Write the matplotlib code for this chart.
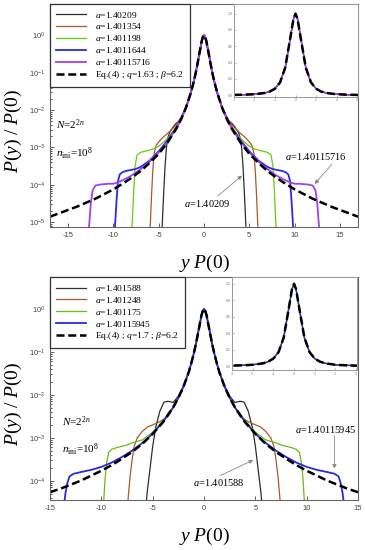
import numpy as np
import matplotlib.pyplot as plt
from matplotlib.ticker import FuncFormatter, LogLocator, NullFormatter

plt.rcParams['font.family'] = 'Liberation Serif'
plt.rcParams['mathtext.fontset'] = 'custom'
plt.rcParams['mathtext.rm'] = 'Liberation Serif'
plt.rcParams['mathtext.it'] = 'Liberation Serif:italic'
plt.rcParams['mathtext.sf'] = 'Liberation Sans'

# ---- upper panel: half curves (x >= 0), values as log10(P(y)/P(0)) ----
top_fit_x = [0, 0.1, 0.25, 0.5, 0.75, 1, 1.25, 1.5, 2, 2.5, 3, 4, 5, 6, 7, 8, 9, 10, 12, 14, 17]
top_fit_lp = [0, -0.03, -0.15, -0.47, -0.80, -1.10, -1.35, -1.57, -1.94, -2.23, -2.47, -2.86,
              -3.17, -3.41, -3.63, -3.81, -3.97, -4.12, -4.37, -4.58, -4.85]

top_a1_x = [0, 0.1, 0.25, 0.5, 0.75, 1, 1.25, 1.5, 2, 2.5, 2.8, 3.1, 3.4, 3.8, 4.0, 4.15, 4.3, 4.45, 4.6, 4.7]
top_a1_lp = [0, -0.03, -0.15, -0.47, -0.80, -1.10, -1.35, -1.57, -1.92, -2.18, -2.30, -2.36, -2.45,
             -2.6, -2.75, -3.0, -3.5, -4.2, -5.0, -5.5]

top_a2_x = [0, 0.1, 0.25, 0.5, 0.75, 1, 1.25, 1.5, 2, 2.5, 3, 3.5, 4, 4.5, 5, 5.3, 5.5, 5.65, 5.8, 5.9, 6.0]
top_a2_lp = [0, -0.03, -0.15, -0.47, -0.80, -1.10, -1.35, -1.57, -1.93, -2.2, -2.38, -2.5, -2.62,
             -2.72, -2.85, -2.95, -3.15, -3.6, -4.3, -4.9, -5.4]

top_a3_x = [0, 0.1, 0.25, 0.5, 0.75, 1, 1.25, 1.5, 2, 2.5, 3, 4, 5, 5.5, 6, 6.5, 7, 7.4, 7.6, 7.75, 7.9, 8.0]
top_a3_lp = [0, -0.03, -0.15, -0.47, -0.80, -1.10, -1.35, -1.57, -1.94, -2.21, -2.43, -2.75, -2.97,
             -3.03, -3.07, -3.1, -3.13, -3.2, -3.5, -4.1, -4.9, -5.4]

top_a4_x = [0, 0.1, 0.25, 0.5, 0.75, 1, 1.25, 1.5, 2, 2.5, 3, 4, 5, 6, 7, 7.5, 8, 8.5, 9, 9.3, 9.5, 9.65, 9.8, 9.9]
top_a4_lp = [0, -0.03, -0.15, -0.47, -0.80, -1.10, -1.35, -1.57, -1.94, -2.22, -2.45, -2.8, -3.1,
             -3.35, -3.52, -3.57, -3.6, -3.62, -3.66, -3.72, -3.9, -4.4, -5.0, -5.4]

top_a5_x = [0, 0.1, 0.25, 0.5, 0.75, 1, 1.25, 1.5, 2, 2.5, 3, 4, 5, 6, 7, 8, 9, 9.5, 10, 10.5, 11, 11.5,
            12, 12.3, 12.5, 12.65, 12.8]
top_a5_lp = [0, -0.03, -0.15, -0.47, -0.80, -1.10, -1.35, -1.57, -1.94, -2.22, -2.46, -2.84, -3.13,
             -3.38, -3.58, -3.75, -3.88, -3.93, -3.97, -3.97, -3.98, -3.99, -4.02, -4.15, -4.5, -5.0, -5.4]

top_labels = [r'$a$=1.40209', r'$a$=1.401354', r'$a$=1.401198', r'$a$=1.4011644', r'$a$=1.40115716']
top_colors = ['#2e2e2e', '#a85a2a', '#66cc11', '#2a2ae0', '#a040f0']
top_fit_label = r'Eq.(4) ; $q$=1.63 ; $\beta$=6.2'

# ---- lower panel ----
bot_fit_x = [0, 0.1, 0.25, 0.5, 0.75, 1, 1.25, 1.5, 2, 2.5, 3, 4, 5, 6, 7, 8, 9, 10, 12, 14, 15]
bot_fit_lp = [0, -0.03, -0.15, -0.46, -0.77, -1.04, -1.27, -1.48, -1.81, -2.07, -2.29, -2.64,
              -2.91, -3.14, -3.33, -3.49, -3.64, -3.77, -4.0, -4.19, -4.27]

bot_a1_x = [0, 0.1, 0.25, 0.5, 0.75, 1, 1.25, 1.5, 2, 2.5, 3, 3.5, 3.9, 4.3, 4.7, 5.0, 5.2, 5.4, 5.55, 5.65]
bot_a1_lp = [0, -0.03, -0.15, -0.46, -0.77, -1.04, -1.27, -1.48, -1.79, -2.03, -2.18, -2.15, -2.17,
             -2.38, -2.75, -3.2, -3.6, -4.0, -4.3, -4.6]

bot_a2_x = [0, 0.1, 0.25, 0.5, 0.75, 1, 1.25, 1.5, 2, 2.5, 3, 3.5, 4, 4.5, 5, 5.5, 6, 6.5, 6.8, 7.0, 7.2,
            7.35, 7.45]
bot_a2_lp = [0, -0.03, -0.15, -0.46, -0.77, -1.04, -1.27, -1.48, -1.81, -2.07, -2.3, -2.5, -2.58,
             -2.65, -2.7, -2.75, -2.85, -3.0, -3.2, -3.5, -3.9, -4.3, -4.6]

bot_a3_x = [0, 0.1, 0.25, 0.5, 0.75, 1, 1.25, 1.5, 2, 2.5, 3, 4, 5, 6, 7, 7.5, 8, 8.5, 9, 9.3, 9.5, 9.65, 9.8]
bot_a3_lp = [0, -0.03, -0.15, -0.46, -0.77, -1.04, -1.27, -1.48, -1.81, -2.07, -2.29, -2.6, -2.87,
             -3.05, -3.12, -3.17, -3.2, -3.23, -3.27, -3.35, -3.6, -4.0, -4.6]

bot_a4_x = [0, 0.1, 0.25, 0.5, 0.75, 1, 1.25, 1.5, 2, 2.5, 3, 4, 5, 6, 7, 8, 9, 10, 11, 12, 12.7, 13.1,
            13.3, 13.5, 13.65]
bot_a4_lp = [0, -0.03, -0.15, -0.46, -0.77, -1.04, -1.27, -1.48, -1.81, -2.07, -2.29, -2.63, -2.91,
             -3.12, -3.3, -3.45, -3.58, -3.68, -3.75, -3.8, -3.84, -3.9, -4.05, -4.3, -4.6]

bot_labels = [r'$a$=1.401588', r'$a$=1.401248', r'$a$=1.401175', r'$a$=1.40115945']
bot_colors = ['#2e2e2e', '#a85a2a', '#66bb11', '#2a2ad8']
bot_fit_label = r'Eq.(4) ; $q$=1.7 ; $\beta$=6.2'


def mirror(x, lp):
    x = np.asarray(x, float)
    lp = np.asarray(lp, float)
    return np.concatenate([-x[::-1], x[1:]]), 10 ** np.concatenate([lp[::-1], lp[1:]])


def style_main(ax, xlim, ylog, xticks):
    ax.set_yscale('log')
    ax.set_xlim(*xlim)
    ax.set_ylim(10 ** ylog[0], 10 ** ylog[1])
    ax.yaxis.set_major_locator(LogLocator(base=10, numticks=20))
    ax.yaxis.set_minor_locator(LogLocator(base=10, subs=np.arange(2, 10), numticks=20))
    ax.yaxis.set_minor_formatter(NullFormatter())
    ax.yaxis.set_major_formatter(FuncFormatter(lambda v, p: r'$\mathsf{10^{%d}}$' % round(np.log10(v))))
    ax.set_xticks(xticks)
    ax.set_xticklabels([str(t) for t in xticks], family='Liberation Sans')
    ax.tick_params(direction='in', labelsize=5.5, colors='#444', length=3, width=0.6)
    ax.tick_params(which='minor', direction='in', length=1.5, width=0.5)
    for s in ax.spines.values():
        s.set_color('#666')
        s.set_linewidth(0.8)
    ax.set_xlabel(r'$y\ P(0)$', fontsize=14, labelpad=10)
    ax.set_ylabel(r'$P(y)\ /\ P(0)$', fontsize=14)
    ax.yaxis.set_label_coords(-0.085, 0.43)


def style_inset(ax, ylim):
    ax.set_xlim(-3, 3.05)
    ax.set_ylim(*ylim)
    ax.set_xticks([-3, -2, -1, 0, 1, 2, 3])
    ax.set_yticks([0, 0.2, 0.4, 0.6, 0.8, 1.0])
    ax.set_xticklabels(['-3', '-2', '-1', '0', '1', '2', '3'], family='Liberation Sans')
    ax.set_yticklabels(['0.0', '0.2', '0.4', '0.6', '0.8', '1.0'], family='Liberation Sans')
    ax.tick_params(direction='in', labelsize=2.5, colors='#777', length=1.5, width=0.4, pad=1)
    for s in ax.spines.values():
        s.set_color('#999')
        s.set_linewidth(0.7)


arrow = dict(arrowstyle='-|>', color='#888', lw=0.6, mutation_scale=6, shrinkA=0, shrinkB=0)

fig = plt.figure(figsize=(3.65, 5.5), dpi=100)

# ================= upper panel =================
ax1 = fig.add_axes([0.137, 0.587, 0.844, 0.406])
top_curves = [(top_a1_x, top_a1_lp), (top_a2_x, top_a2_lp), (top_a3_x, top_a3_lp),
              (top_a4_x, top_a4_lp), (top_a5_x, top_a5_lp)]
ins1 = fig.add_axes([0.641, 0.824, 0.340, 0.169])
for (cx, clp), lab, col in zip(top_curves, top_labels, top_colors):
    xx, yy = mirror(cx, clp)
    lw = 1.3 if col in ('#2a2ae0', '#a040f0') else 0.9
    ax1.plot(xx, yy, color=col, lw=lw, label=lab)
    ins1.plot(xx, yy, color=col, lw=0.9)
fx, fy = mirror(top_fit_x, top_fit_lp)
ax1.plot(fx, fy, color='black', lw=1.8, dashes=(3.2, 1.5), label=top_fit_label)
ins1.plot(fx, fy, color='black', lw=1.8, dashes=(3.2, 1.5))
style_main(ax1, (-17, 17), (-5.13, 0.84), [-15, -10, -5, 0, 5, 10, 15])
style_inset(ins1, (-0.02, 1.12))
ax1.legend(loc='upper left', fontsize=6.8, fancybox=False, edgecolor='#333', framealpha=1,
           borderaxespad=0, handlelength=3.2, labelspacing=0.2, borderpad=0.6,
           handletextpad=1.0).get_frame().set_linewidth(0.9)
ax1.text(-16.3, 10 ** -2.4, r'$N$=2$^{2n}$', fontsize=8, va='center')
ax1.text(-16.3, 10 ** -3.16, r'$n_{\rm ini}$=10$^{8}$', fontsize=8, va='center')
ax1.text(12.3, 10 ** -3.24, r'$a$=1.40115716', fontsize=7.5, ha='center', va='center')
ax1.annotate('', xy=(12.2, 10 ** -3.98), xytext=(14.1, 10 ** -3.45), arrowprops=arrow)
ax1.text(0.3, 10 ** -4.5, r'$a$=1.40209', fontsize=7.5, ha='center', va='center')
ax1.annotate('', xy=(4.2, 10 ** -3.75), xytext=(1.5, 10 ** -4.3), arrowprops=arrow)

# ================= lower panel =================
ax2 = fig.add_axes([0.137, 0.091, 0.844, 0.405])
bot_curves = [(bot_a1_x, bot_a1_lp), (bot_a2_x, bot_a2_lp), (bot_a3_x, bot_a3_lp),
              (bot_a4_x, bot_a4_lp)]
ins2 = fig.add_axes([0.636, 0.327, 0.342, 0.169])
for (cx, clp), lab, col in zip(bot_curves, bot_labels, bot_colors):
    xx, yy = mirror(cx, clp)
    lw = 1.3 if col == '#2a2ad8' else 0.9
    ax2.plot(xx, yy, color=col, lw=lw, label=lab)
    ins2.plot(xx, yy, color=col, lw=0.9)
fx, fy = mirror(bot_fit_x, bot_fit_lp)
ax2.plot(fx, fy, color='black', lw=1.8, dashes=(3.2, 1.5), label=bot_fit_label)
ins2.plot(fx, fy, color='black', lw=1.8, dashes=(3.2, 1.5))
style_main(ax2, (-15, 15), (-4.45, 0.74), [-15, -10, -5, 0, 5, 10, 15])
style_inset(ins2, (-0.05, 1.08))
ax2.legend(loc='upper left', fontsize=6.8, fancybox=False, edgecolor='#333', framealpha=1,
           borderaxespad=0, handlelength=3.2, labelspacing=0.2, borderpad=0.6,
           handletextpad=1.0).get_frame().set_linewidth(0.9)
ax2.text(-13.8, 10 ** -2.63, r'$N$=2$^{2n}$', fontsize=8, va='center')
ax2.text(-13.8, 10 ** -3.28, r'$n_{\rm ini}$=10$^{8}$', fontsize=8, va='center')
ax2.text(11.8, 10 ** -2.81, r'$a$=1.40115945', fontsize=7.5, ha='center', va='center')
ax2.annotate('', xy=(12.7, 10 ** -3.72), xytext=(12.7, 10 ** -2.95), arrowprops=arrow)
ax2.text(1.4, 10 ** -4.05, r'$a$=1.401588', fontsize=7.5, ha='center', va='center')
ax2.annotate('', xy=(4.8, 10 ** -3.52), xytext=(1.6, 10 ** -3.88), arrowprops=arrow)

fig.savefig('out.png', dpi=100)
